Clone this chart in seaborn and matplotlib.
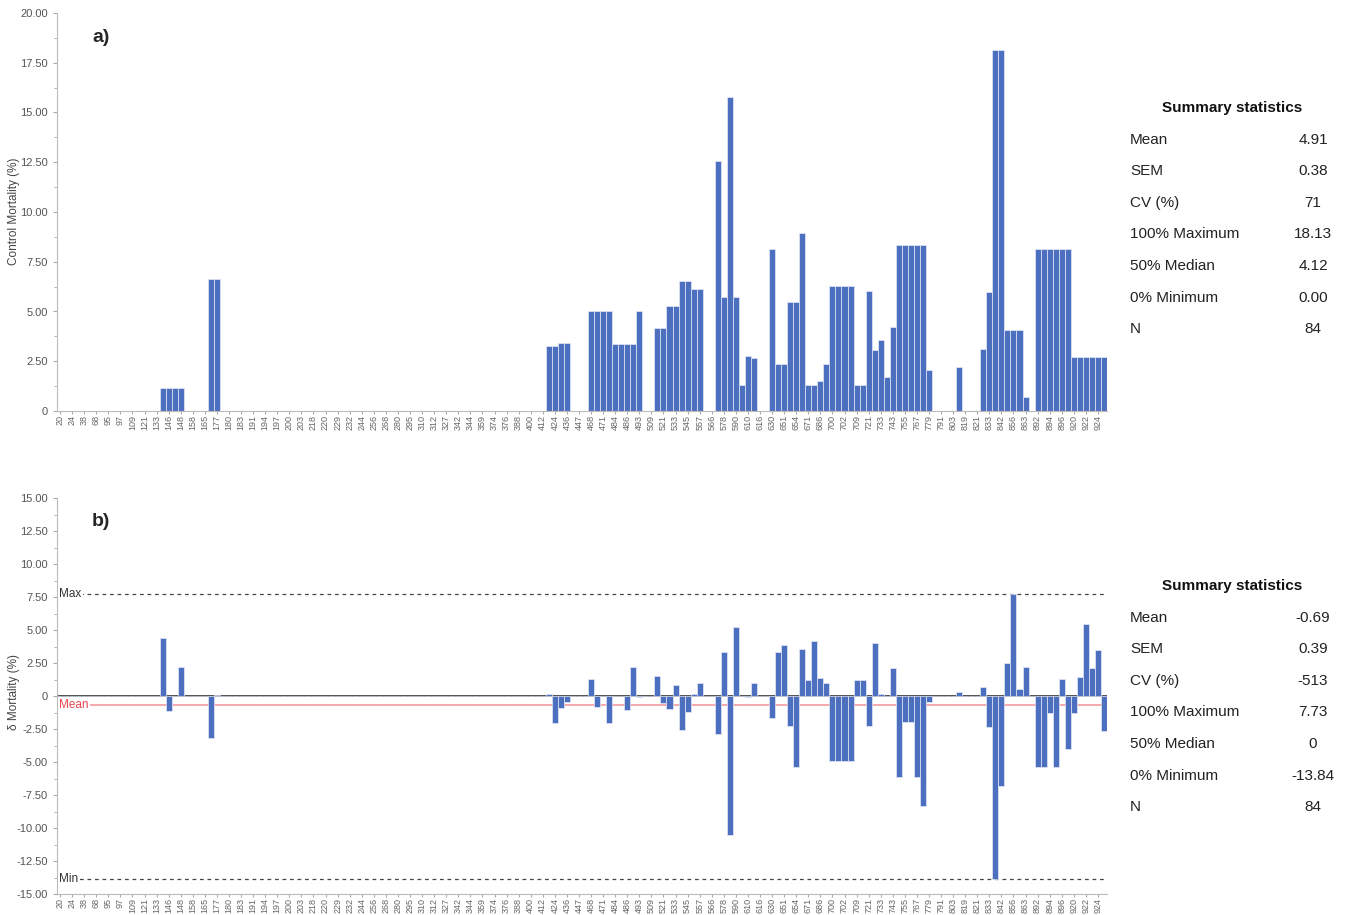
import numpy as np
import pandas as pd
import seaborn as sns
from matplotlib import pyplot as plt
from matplotlib.ticker import MultipleLocator, FuncFormatter

# %% data (one value per bar, 174 bars, every other bar labelled)
sites = ['20', '24', '38', '68', '95', '97', '109', '121', '133', '146',
         '148', '158', '165', '177', '180', '183', '191', '194', '197', '200',
         '203', '218', '220', '229', '232', '244', '256', '268', '280', '295',
         '310', '312', '327', '342', '344', '359', '374', '376', '388', '400',
         '412', '424', '436', '447', '468', '471', '484', '486', '493', '509',
         '521', '533', '545', '557', '566', '578', '590', '610', '616', '630',
         '651', '654', '671', '686', '700', '702', '709', '721', '733', '743',
         '755', '767', '779', '791', '803', '819', '821', '833', '842', '856',
         '863', '892', '894', '896', '920', '922', '924']

control = [0, 0, 0, 0, 0, 0, 0, 0, 0, 0,
           0, 0, 0, 0, 0, 0, 0, 1.15, 1.15, 1.15,
           1.15, 0, 0, 0, 0, 6.65, 6.65, 0, 0, 0,
           0, 0, 0, 0, 0, 0, 0, 0, 0, 0,
           0, 0, 0, 0, 0, 0, 0, 0, 0, 0,
           0, 0, 0, 0, 0, 0, 0, 0, 0, 0,
           0, 0, 0, 0, 0, 0, 0, 0, 0, 0,
           0, 0, 0, 0, 0, 0, 0, 0, 0, 0,
           0, 3.28, 3.28, 3.42, 3.42, 0, 0, 0, 5.05, 5.05,
           5.05, 5.05, 3.38, 3.38, 3.38, 3.38, 5.05, 0, 0, 4.15,
           4.15, 5.3, 5.3, 6.55, 6.55, 6.15, 6.15, 0, 0, 12.55,
           5.75, 15.8, 5.75, 1.3, 2.75, 2.65, 0, 0, 8.15, 2.38,
           2.38, 5.5, 5.5, 8.95, 1.3, 1.3, 1.5, 2.35, 6.28, 6.28,
           6.28, 6.28, 1.3, 1.3, 6.05, 3.05, 3.58, 1.72, 4.22, 8.33,
           8.33, 8.33, 8.33, 8.33, 2.05, 0, 0, 0, 0, 2.2,
           0, 0, 0, 3.12, 5.98, 18.13, 18.13, 4.08, 4.08, 4.08,
           0.7, 0, 8.15, 8.15, 8.15, 8.15, 8.15, 8.15, 2.7, 2.7,
           2.7, 2.7, 2.7, 2.7]

delta = [0, 0, 0, 0, 0, 0, 0, 0, 0, 0,
         0, 0, 0, 0, 0, 0, 0, 4.4, -1.1, 0,
         2.2, 0, 0, 0, 0, -3.2, 0.1, 0, 0, 0,
         0, 0, 0, 0, 0, 0, 0, 0, 0, 0,
         0, 0, 0, 0, 0, 0, 0, 0, 0, 0,
         0, 0, 0, 0, 0, 0, 0, 0, 0, 0,
         0, 0, 0, 0, 0, 0, 0, 0, 0, 0,
         0, 0, 0, 0, 0, 0, 0, 0, 0, 0,
         0, 0.15, -2.05, -0.9, -0.45, 0, 0, 0, 1.3, -0.8,
         0, -2.05, 0, 0, -1.05, 2.2, -0.1, 0, 0, 1.5,
         -0.55, -1.0, 0.85, -2.6, -1.2, 0.13, 1.0, 0, 0, -2.9,
         3.3, -10.55, 5.2, 0, -0.05, 1.0, 0, 0, -1.7, 3.35,
         3.9, -2.3, -5.4, 3.55, 1.25, 4.15, 1.35, 1.0, -4.95, -4.95,
         -4.95, -4.95, 1.25, 1.25, -2.3, 4.0, 0.13, 0, 2.1, -6.15,
         -2.0, -2.0, -6.15, -8.3, -0.45, 0, 0, 0, 0, 0.27,
         0, 0, 0, 0.65, -2.35, -13.84, -6.85, 2.5, 7.73, 0.55,
         2.2, 0, -5.4, -5.4, -1.3, -5.4, 1.3, -4.05, -1.3, 1.45,
         5.45, 2.1, 3.45, -2.65]

stat_names = ['Mean', 'SEM', 'CV (%)', '100% Maximum', '50% Median', '0% Minimum', 'N']
stats_a = ['4.91', '0.38', '71', '18.13', '4.12', '0.00', '84']
stats_b = ['-0.69', '0.39', '-513', '7.73', '0', '-13.84', '84']
delta_mean, delta_max, delta_min = -0.69, 7.73, -13.84

BarColor = '#4d6fbf'

sns.set_style('white')
plt.rcParams['font.family'] = ['Liberation Sans', 'DejaVu Sans']

dfData = pd.DataFrame({'Pos': np.arange(len(control)),
                       'Control': control,
                       'Delta': delta})

W, H = 1351, 915
fig = plt.figure(figsize=(W / 100, H / 100), dpi=100)
axA = fig.add_axes([57 / W, 1 - 411 / H, 1050 / W, 398 / H])
axB = fig.add_axes([57 / W, 1 - 894 / H, 1050 / W, 396 / H])


def fmt(v, pos):
    if abs(v) < 1e-9:
        return '0'
    return f'{v:.2f}'


for ax, col, lims in ((axA, 'Control', (0, 20)), (axB, 'Delta', (-15, 15))):
    sns.barplot(data=dfData, x='Pos', y=col, ax=ax, color=BarColor,
                saturation=1, width=1, edgecolor='#e4e9f5', linewidth=0.5)
    ax.set_ylim(*lims)
    ax.set_xlim(-0.5, len(control) - 0.5)
    ax.yaxis.set_major_locator(MultipleLocator(2.5))
    ax.yaxis.set_minor_locator(MultipleLocator(1.25))
    ax.yaxis.set_major_formatter(FuncFormatter(fmt))
    ax.set_xticks(np.arange(0, len(control), 2))
    ax.set_xticklabels(sites, rotation=90, fontsize=6.5, color='#666666')
    ax.tick_params(axis='y', which='major', labelsize=8, labelcolor='#555555',
                   length=3, color='#aaaaaa', left=True)
    ax.tick_params(axis='y', which='minor', length=2, color='#aaaaaa', left=True)
    ax.tick_params(axis='x', length=2, color='#aaaaaa', bottom=True, pad=1)
    ax.set_xlabel('')
    ax.set_ylabel('')
    for s in ('top', 'right'):
        ax.spines[s].set_visible(False)
    for s in ('left', 'bottom'):
        ax.spines[s].set_color('#bbbbbb')
        ax.spines[s].set_linewidth(0.8)

# reference lines on panel b
axB.axhline(0, color='#333333', lw=1.2, zorder=0.5)
axB.axhline(delta_mean, color='#f4a3a6', lw=1.3, zorder=0.6)
axB.axhline(delta_max, color='#444444', lw=0.9, ls=(0, (3, 3)), zorder=0.6)
axB.axhline(delta_min, color='#444444', lw=0.9, ls=(0, (3, 3)), zorder=0.6)
ytr = axB.get_yaxis_transform()
boxkw = dict(facecolor='white', edgecolor='none', pad=1)
axB.text(0.002, delta_max, 'Max', transform=ytr, fontsize=8.5, color='#333333',
         va='center', ha='left', bbox=boxkw)
axB.text(0.002, delta_min, 'Min', transform=ytr, fontsize=8.5, color='#333333',
         va='center', ha='left', bbox=boxkw)
axB.text(0.002, delta_mean, 'Mean', transform=ytr, fontsize=8.5, color='#e8474d',
         va='center', ha='left', bbox=boxkw)

# axis titles and panel letters
fig.text(14 / W, 1 - 211 / H, 'Control Mortality (%)', rotation=90,
         fontsize=8.5, color='#444444', ha='center', va='center')
fig.text(14 / W, 1 - 692 / H, 'δ Mortality (%)', rotation=90,
         fontsize=8.5, color='#444444', ha='center', va='center')
fig.text(92 / W, 1 - 38 / H, 'a)', fontsize=14, fontweight='bold', va='center')
fig.text(92 / W, 1 - 522 / H, 'b)', fontsize=14, fontweight='bold', va='center')

# summary statistics tables
for ytop, vals in ((108, stats_a), (586, stats_b)):
    fig.text(1232 / W, 1 - ytop / H, 'Summary statistics', fontsize=11,
             fontweight='bold', ha='center', va='center', color='#111111')
    for k, (name, val) in enumerate(zip(stat_names, vals)):
        yy = 1 - (ytop + 31.6 * (k + 1)) / H
        fig.text(1130 / W, yy, name, fontsize=11, ha='left', va='center', color='#222222')
        fig.text(1313 / W, yy, val, fontsize=11, ha='center', va='center', color='#222222')

fig.savefig('out.png', dpi=100)
